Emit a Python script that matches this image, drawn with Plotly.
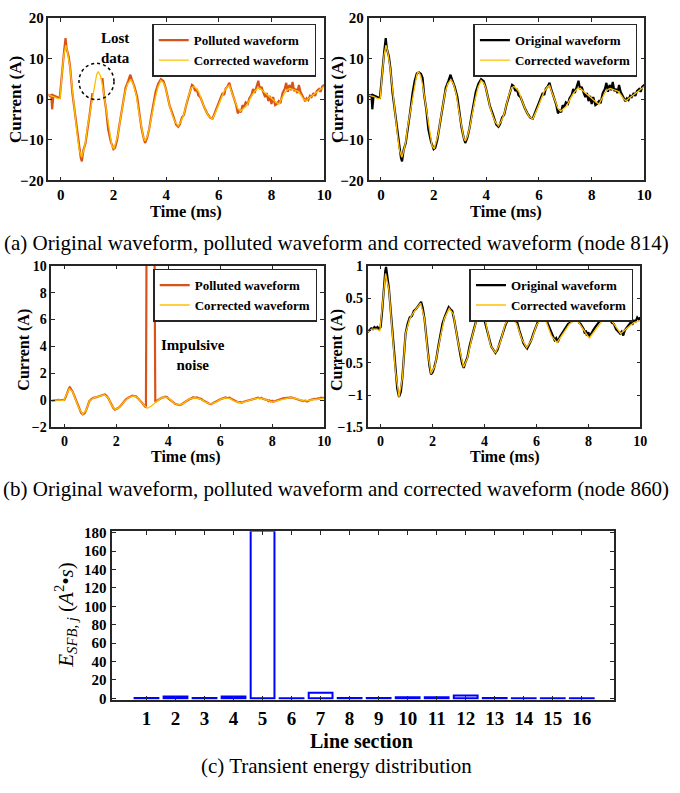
import plotly.graph_objects as go

# ---------------- (a) node 814 ----------------
t_orig_814 = [-0.5, -0.42, -0.36, -0.33, -0.28, -0.2, -0.1, -0.04, 0.04, 0.12, 0.18, 0.22, 0.3, 0.36, 0.44,
              0.52, 0.6, 0.68, 0.76, 0.8, 0.86, 0.94, 1.02, 1.1, 1.2, 1.28, 1.36, 1.44, 1.52, 1.58, 1.64,
              1.72, 1.8, 1.9, 2.0, 2.06, 2.14, 2.22, 2.3, 2.38, 2.46, 2.56, 2.64, 2.7, 2.8, 2.9, 2.98,
              3.06, 3.14, 3.2, 3.28, 3.36, 3.44, 3.52, 3.6, 3.7, 3.8, 3.9, 3.98, 4.06, 4.14, 4.22, 4.3,
              4.38, 4.46, 4.52, 4.6, 4.68, 4.76, 4.84, 4.92, 4.98, 5.04, 5.1, 5.16, 5.22, 5.3, 5.38, 5.46,
              5.56, 5.66, 5.76, 5.84, 5.92, 6.0, 6.08, 6.14, 6.2, 6.26, 6.32, 6.4, 6.46, 6.54, 6.6, 6.66,
              6.72, 6.78, 6.84, 6.9, 6.96, 7.02, 7.1, 7.16, 7.24, 7.3, 7.36, 7.42, 7.5, 7.56, 7.62, 7.7,
              7.76, 7.82, 7.88, 7.94, 8.0, 8.06, 8.14, 8.2, 8.28, 8.34, 8.42, 8.5, 8.56, 8.62, 8.68, 8.74,
              8.8, 8.86, 8.92, 8.98, 9.04, 9.1, 9.16, 9.22, 9.28, 9.34, 9.4, 9.46, 9.52, 9.6, 9.66, 9.72,
              9.8, 9.86, 9.92, 10.0]
orig_814 = [1.2, 0.8, 1.0, -2.5, 0.9, 0.6, 0.4, 0.3, 6.5, 11.5, 15.0, 12.5, 10.5, 7.5, 1.5,
            -2.5, -7.5, -11.5, -14.5, -15.3, -12.5, -10.8, -6.5, -3.5, 1.5, 4.5, 6.3, 6.6, 6.2, 5.2, 1.0,
            -2.5, -7.5, -10.5, -12.3, -12.0, -10.0, -6.5, -3.5, -0.5, 2.8, 4.5, 6.0, 4.8, 3.0, 0.5, -3.8,
            -7.0, -9.5, -10.8, -9.5, -7.2, -4.0, -1.0, 1.8, 3.8, 4.9, 4.4, 2.8, 0.5, -1.8, -3.2, -5.0,
            -6.3, -6.8, -6.2, -4.5, -3.8, -1.5, 0.5, 1.8, 3.5, 3.2, 2.0, 2.5, 1.0, 0.5, -1.0, -2.2,
            -3.5, -4.5, -4.8, -3.5, -1.8, -0.5, 0.8, 1.5, 1.0, 2.6, 3.0, 4.0, 2.5, 1.0, -0.5, -1.5,
            -3.5, -2.8, -3.2, -1.5, -2.0, -0.8, -1.2, 0.2, 1.0, 2.5, 1.5, 3.0, 4.5, 2.5, 3.0, 1.5,
            0.5, 1.5, -0.5, 0.8, -1.2, 0.5, -1.5, -1.2, -0.5, -1.0, 1.5, 2.5, 4.0, 1.8, 3.5, 2.2,
            4.2, 2.0, 2.5, 1.5, 3.5, 1.8, 1.0, 0.5, -0.5, 0.2, -0.2, 0.8, 0.5, 1.5, 0.8, 2.0,
            2.5, 1.8, 3.0, 3.5]
t_corr_814 = [-0.5, -0.3, -0.1, -0.03, 0.05, 0.12, 0.19, 0.26, 0.35, 0.44, 0.52, 0.62, 0.7, 0.79, 0.86,
              0.94, 1.02, 1.1, 1.2, 1.28, 1.36, 1.42, 1.5, 1.58, 1.66, 1.74, 1.85, 1.94, 2.02, 2.1, 2.18,
              2.26, 2.34, 2.44, 2.54, 2.66, 2.76, 2.86, 2.96, 3.06, 3.14, 3.2, 3.28, 3.36, 3.46, 3.56,
              3.68, 3.8, 3.9, 3.98, 4.06, 4.15, 4.24, 4.34, 4.46, 4.56, 4.67, 4.76, 4.86, 4.96, 5.05,
              5.14, 5.24, 5.36, 5.49, 5.62, 5.76, 5.88, 5.99, 6.1, 6.2, 6.32, 6.4, 6.5, 6.62, 6.72, 6.82,
              6.94, 7.06, 7.18, 7.31, 7.44, 7.56, 7.7, 7.83, 7.96, 8.06, 8.18, 8.28, 8.38, 8.5, 8.6, 8.7,
              8.85, 9.0, 9.12, 9.22, 9.3, 9.42, 9.56, 9.7, 9.85, 10.0]
corr_814 = [1.0, 0.7, 0.1, 0.2, 6.5, 11.0, 13.3, 11.5, 7.7, 2.0, -2.5, -8.5, -12.5, -14.3, -12.8,
            -10.5, -6.5, -3.5, 1.0, 4.0, 6.0, 6.8, 5.8, 3.5, 0.0, -3.5, -8.8, -11.5, -12.2, -10.5, -8.5,
            -5.0, -2.0, 1.8, 3.8, 4.8, 3.6, 1.1, -3.0, -7.0, -9.5, -10.3, -9.2, -7.2, -3.5, -0.5,
            2.8, 4.6, 4.0, 2.7, 0.5, -2.2, -4.0, -5.6, -6.6, -5.5, -3.8, -1.5, 1.1, 2.8, 3.1,
            2.6, 1.8, -0.5, -2.6, -4.2, -4.9, -3.2, -1.4, 0.5, 1.9, 3.0, 3.4, 1.5, -0.6, -2.3, -3.0,
            -2.4, -1.6, 0.0, 1.5, 2.5, 2.7, 1.9, 1.1, 0.3, -0.2, -0.8, -1.2, 0.0, 1.5, 2.3, 2.6,
            2.3, 1.9, 1.0, 0.0, -0.4, 0.2, 0.9, 1.6, 2.4, 3.1]
lost_start_814, lost_end_814 = 1.22, 1.55

# ---------------- (b) node 860 ----------------
t_orig_860 = [-0.5, -0.42, -0.36, -0.3, -0.24, -0.18, -0.12, -0.06, 0.0, 0.06, 0.12, 0.18, 0.21, 0.25, 0.32,
              0.38, 0.44, 0.5, 0.57, 0.64, 0.71, 0.78, 0.84, 0.9, 0.96, 1.04, 1.12, 1.2, 1.28, 1.36, 1.44,
              1.5, 1.56, 1.62, 1.69, 1.76, 1.82, 1.88, 1.94, 2.0, 2.06, 2.14, 2.22, 2.3, 2.38, 2.46, 2.54,
              2.62, 2.68, 2.76, 2.84, 2.92, 3.0, 3.08, 3.14, 3.2, 3.26, 3.34, 3.42, 3.5, 3.58, 3.66, 3.74,
              3.82, 3.88, 3.94, 4.02, 4.1, 4.18, 4.26, 4.34, 4.42, 4.5, 4.58, 4.66, 4.74, 4.82, 4.9, 4.96,
              5.02, 5.1, 5.18, 5.26, 5.34, 5.42, 5.5, 5.58, 5.64, 5.72, 5.8, 5.88, 5.96, 6.04, 6.12, 6.2,
              6.28, 6.36, 6.44, 6.52, 6.58, 6.64, 6.7, 6.76, 6.82, 6.9, 6.98, 7.06, 7.14, 7.22, 7.3, 7.38,
              7.46, 7.52, 7.58, 7.64, 7.7, 7.76, 7.82, 7.86, 7.9, 7.94, 8.0, 8.04, 8.1, 8.18, 8.26, 8.34,
              8.42, 8.5, 8.58, 8.66, 8.74, 8.82, 8.9, 8.98, 9.06, 9.14, 9.22, 9.28, 9.34, 9.4, 9.48, 9.56,
              9.62, 9.7, 9.76, 9.82, 9.88, 9.94, 10.0]
orig_860 = [-0.03, 0.0, 0.03, 0.02, 0.05, 0.03, 0.05, 0.02, 0.05, 0.3, 0.7, 0.92, 0.98, 0.88, 0.65,
            0.35, 0.03, -0.3, -0.63, -0.9, -1.03, -0.95, -0.72, -0.35, -0.05, 0.1, 0.2, 0.22, 0.3, 0.33, 0.38,
            0.4, 0.44, 0.35, 0.18, -0.1, -0.35, -0.55, -0.68, -0.65, -0.58, -0.45, -0.25, -0.08, 0.1, 0.2, 0.28,
            0.36, 0.33, 0.3, 0.15, -0.05, -0.2, -0.4, -0.52, -0.58, -0.5, -0.42, -0.25, -0.1, 0.0, 0.12, 0.2,
            0.22, 0.28, 0.25, 0.12, -0.02, -0.15, -0.25, -0.3, -0.35, -0.3, -0.2, -0.1, 0.02, 0.1, 0.15, 0.24,
            0.2, 0.22, 0.15, 0.12, 0.0, -0.1, -0.2, -0.25, -0.28, -0.22, -0.15, -0.05, 0.05, 0.12, 0.2, 0.22,
            0.18, 0.2, 0.1, 0.02, -0.05, -0.1, -0.15, -0.12, -0.18, -0.1, -0.05, 0.0, 0.05, 0.1, 0.12, 0.15,
            0.2, 0.15, 0.2, 0.12, 0.1, 0.05, 0.02, -0.05, 0.0, -0.08, -0.03, -0.1, -0.05, 0.0, 0.05, 0.1,
            0.15, 0.18, 0.2, 0.22, 0.22, 0.18, 0.12, 0.1, 0.02, -0.02, -0.05, -0.02, -0.08, 0.0, 0.05, 0.08,
            0.12, 0.1, 0.15, 0.14, 0.2, 0.17, 0.2]
t_corr_860 = [-0.5, -0.34, -0.15, -0.03, 0.08, 0.19, 0.32, 0.44, 0.57, 0.71, 0.84, 0.96, 1.12, 1.31, 1.54,
              1.69, 1.81, 1.94, 2.09, 2.26, 2.45, 2.64, 2.8, 2.98, 3.19, 3.34, 3.53, 3.69, 3.87, 4.04, 4.23,
              4.42, 4.61, 4.8, 5.01, 5.24, 5.43, 5.62, 5.81, 6.0, 6.19, 6.38, 6.57, 6.79, 7.02, 7.27, 7.53,
              7.78, 8.03, 8.29, 8.54, 8.73, 8.98, 9.24, 9.49, 9.75, 10.0]
corr_860 = [-0.03, 0.02, 0.02, -0.01, 0.43, 0.88, 0.63, 0.03, -0.63, -1.03, -0.73, -0.05, 0.18, 0.3, 0.42,
            0.18, -0.33, -0.67, -0.55, -0.18, 0.18, 0.34, 0.25, -0.18, -0.57, -0.43, -0.08, 0.15, 0.26, 0.13, -0.23,
            -0.35, -0.18, 0.1, 0.2, 0.1, -0.13, -0.27, -0.15, 0.08, 0.19, 0.13, -0.08, -0.19, -0.05, 0.1, 0.18,
            0.03, -0.12, 0.02, 0.15, 0.22, 0.1, -0.05, 0.03, 0.12, 0.15]
impulse_start_860, impulse_end_860, impulse_amp_860 = 3.2, 3.45, 30.0

# ---------------- (c) transient energy ----------------
sections = list(range(1, 17))
energy = [0.3, 2.0, 0.2, 2.0, 182.0, 0.1, 6.0, 0.2, 0.3, 1.0, 1.0, 3.0, 0.2, 0.1, 0.1, 0.1]

# ---------------- derived series ----------------
poll_814 = [None if lost_start_814 < t < lost_end_814 else v for t, v in zip(t_orig_814, orig_814)]
poll_860 = [impulse_amp_860 if impulse_start_860 <= t <= impulse_end_860 else v
            for t, v in zip(t_orig_860, orig_860)]

ORANGE = "#D95319"
YELLOW = "#FFBF00"
BLACK = "#000000"
FONT = "Liberation Serif"
W, H = 680, 793

def xd(a, b):
    return [a / W, b / W]

def yd(top, bot):
    return [1 - bot / H, 1 - top / H]

fig = go.Figure()

def line(x, y, color, width, name, xa, ya, legend):
    fig.add_trace(go.Scatter(x=x, y=y, mode="lines", name=name, xaxis=xa, yaxis=ya,
                             line=dict(color=color, width=width), legend=legend,
                             connectgaps=False))

line(t_orig_814, poll_814, ORANGE, 2.2, "Polluted waveform", "x", "y", "legend")
line(t_corr_814, corr_814, YELLOW, 1.3, "Corrected waveform", "x", "y", "legend")
line(t_orig_814, orig_814, BLACK, 2.2, "Original waveform", "x2", "y2", "legend2")
line(t_corr_814, corr_814, YELLOW, 1.3, "Corrected waveform", "x2", "y2", "legend2")
line(t_orig_860, poll_860, ORANGE, 2.2, "Polluted waveform", "x3", "y3", "legend3")
line(t_corr_860, corr_860, YELLOW, 1.3, "Corrected waveform", "x3", "y3", "legend3")
line(t_orig_860, orig_860, BLACK, 2.2, "Original waveform", "x4", "y4", "legend4")
line(t_corr_860, corr_860, YELLOW, 1.3, "Corrected waveform", "x4", "y4", "legend4")

fig.add_trace(go.Bar(x=sections, y=energy, xaxis="x5", yaxis="y5", width=0.82,
                     marker=dict(color="rgba(0,0,0,0)", line=dict(color="#0000FF", width=2)),
                     showlegend=False))

def axis(domain, anchor, rng, tickvals, tsize=15, lw=1.5):
    return dict(domain=domain, anchor=anchor, range=rng, showline=True, mirror="ticks",
                linecolor="#262626", linewidth=lw, ticks="inside", ticklen=4, tickwidth=1.2,
                tickcolor="#262626", showgrid=False, zeroline=False, tickvals=tickvals,
                tickfont=dict(family=FONT, size=tsize, color="black", weight="bold"))

tx = [0, 2, 4, 6, 8, 10]
fig.update_layout(
    width=W, height=H, margin=dict(l=0, r=0, t=0, b=0),
    paper_bgcolor="white", plot_bgcolor="white", showlegend=True,
    xaxis=axis(xd(49, 328), "y", [-0.47, 10], tx, 15),
    yaxis=axis(yd(10, 176), "x", [-20, 20], [-20, -10, 0, 10, 20], 15),
    xaxis2=axis(xd(373, 652), "y2", [-0.47, 10], tx, 15),
    yaxis2=axis(yd(10, 176), "x2", [-20, 20], [-20, -10, 0, 10, 20], 15),
    xaxis3=axis(xd(52, 328), "y3", [-0.5, 10], tx, 14),
    yaxis3=axis(yd(263, 428), "x3", [-2, 10], [-2, 0, 2, 4, 6, 8, 10], 14),
    xaxis4=axis(xd(372, 648), "y4", [-0.5, 10], tx, 14),
    yaxis4=axis(yd(263, 428), "x4", [-1.5, 1], [-1.5, -1, -0.5, 0, 0.5, 1], 14),
    xaxis5=axis(xd(113, 621), "y5", [-0.2, 17.1], sections, 19, 2.2),
    yaxis5=axis(yd(534, 706), "x5", [-1.6, 181.6], list(range(0, 181, 20)), 15, 2.2),
)

def legend(xr, ytop):
    return dict(x=xr / W, y=1 - ytop / H, xanchor="right", yanchor="top",
                bgcolor="white", bordercolor="#262626", borderwidth=1.5,
                font=dict(family=FONT, size=13, color="black", weight="bold"),
                tracegroupgap=0, itemwidth=30)

fig.update_layout(legend=legend(320, 16), legend2=legend(645, 16),
                  legend3=legend(321, 266), legend4=legend(641, 266))

# dotted circle around the lost data region (data coordinates of plot a-left)
fig.add_shape(type="circle", xref="x", yref="y", x0=0.69, x1=2.02, y0=-0.1, y1=8.8,
              line=dict(color="black", width=1.5, dash="dot"))

def ann(text, x, y, size, bold=True, angle=0):
    fig.add_annotation(text=text, x=x / W, y=1 - y / H, xref="paper", yref="paper",
                       xanchor="center", yanchor="middle", showarrow=False, textangle=angle,
                       font=dict(family=FONT, size=size, color="black",
                                 weight="bold" if bold else "normal"))

# axis titles
ann("Time (ms)", 188, 208, 16.5)
ann("Time (ms)", 512, 208, 16.5)
ann("Current (A)", 15, 93, 17, angle=-90)
ann("Current (A)", 341, 93, 17, angle=-90)
ann("Time (ms)", 188, 458, 16)
ann("Time (ms)", 510, 458, 16)
ann("Current (A)", 24, 349, 16, angle=-90)
ann("Current (A)", 341, 349, 16, angle=-90)
ann("Line section", 366, 748, 20)
ann("<i>E</i><sub><i>SFB, j</i></sub> (<i>A</i><sup>2</sup>•<i>s</i>)", 66, 619, 21, bold=False, angle=-90)

# in-plot notes
ann("Lost<br>data", 117, 41, 15)
ann("Impulsive<br>noise", 195, 354, 15)

# captions
ann("(a) Original waveform, polluted waveform and corrected waveform (node 814)", 340, 240, 21, False)
ann("(b) Original waveform, polluted waveform and corrected waveform (node 860)", 340, 491, 21, False)
ann("(c) Transient energy distribution", 340, 774, 21, False)

fig.write_html("out.html")
